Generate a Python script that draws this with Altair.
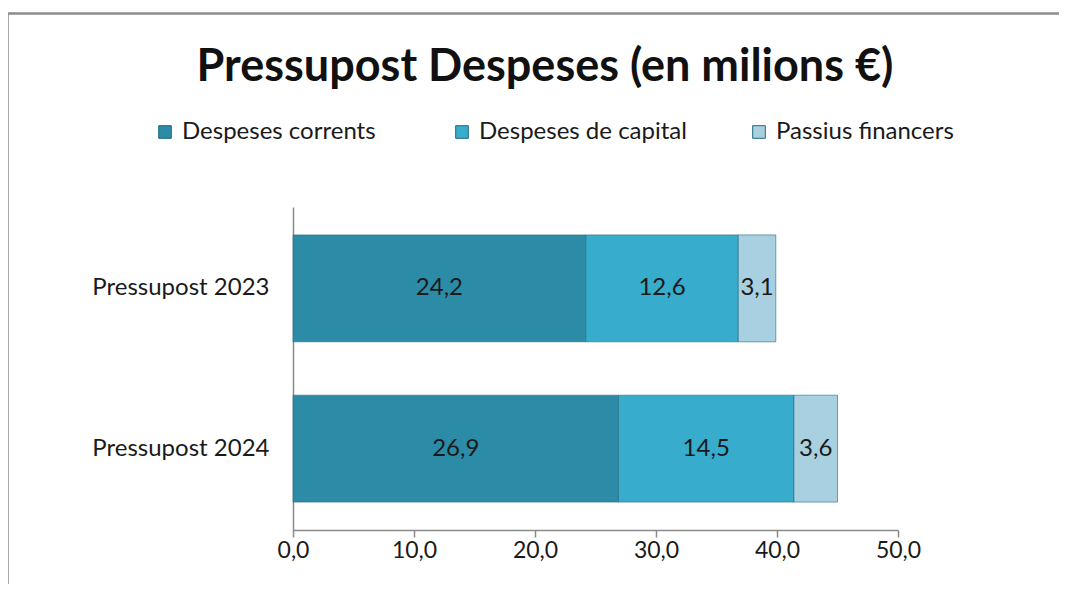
import altair as alt
import pandas as pd

budgets = ["Pressupost 2023", "Pressupost 2024"]
series = ["Despeses corrents", "Despeses de capital", "Passius financers"]
corrents = [24.2, 26.9]
capital = [12.6, 14.5]
passius = [3.1, 3.6]
colors = ["#2C8BA7", "#38ACCC", "#A8D0E0"]
x_ticks = [0, 10, 20, 30, 40, 50]
title_text = "Pressupost Despeses (en milions €)"

rows = []
for i, b in enumerate(budgets):
    for j, (s, vals) in enumerate(zip(series, [corrents, capital, passius])):
        rows.append({"budget": b, "serie": s, "order": j, "value": vals[i]})
df = pd.DataFrame(rows)

FONT = "Lato"

base = alt.Chart(df).transform_calculate(
    label="replace(format(datum.value, '.1f'), '.', ',')"
).transform_stack(
    stack="value", groupby=["budget"], sort=[alt.SortField("order")], as_=["x0", "x1"]
).transform_calculate(mid="(datum.x0 + datum.x1) / 2")

y_enc = alt.Y(
    "budget:N",
    sort=budgets,
    scale=alt.Scale(paddingInner=0.333, paddingOuter=0.174),
    axis=alt.Axis(
        title=None, ticks=False, labelPadding=24, labelFontSize=24,
        labelFont=FONT, labelColor="#1a1a1a", domainColor="#8a8a8a", domainWidth=1.5,
    ),
)

bars = base.mark_bar(stroke="#1f6a80", strokeWidth=1, strokeOpacity=0.6).encode(
    x=alt.X(
        "x0:Q",
        scale=alt.Scale(domain=[0, 50], nice=False),
        axis=alt.Axis(
            title=None, values=x_ticks, grid=False, tickSize=7, tickColor="#8a8a8a",
            domainColor="#8a8a8a", domainWidth=1.5, tickWidth=1.5, labelPadding=2,
            labelFontSize=23, labelFont=FONT, labelColor="#1a1a1a", labelFlush=False,
            labelExpr="replace(format(datum.value, '.1f'), '.', ',')",
        ),
    ),
    x2="x1:Q",
    y=y_enc,
    color=alt.Color(
        "serie:N",
        sort=series,
        scale=alt.Scale(domain=series, range=colors),
        legend=alt.Legend(
            title=None, orient="none", direction="horizontal",
            legendX=-140, legendY=-87, symbolType="square", symbolSize=160,
            symbolStrokeColor="#1f6a80", symbolStrokeWidth=1,
            labelFontSize=24, labelFont=FONT, labelColor="#1a1a1a", labelLimit=400,
            columnPadding=60, gridAlign="all", labelOffset=5,
        ),
    ),
    order=alt.Order("order:Q"),
)

texts = base.mark_text(fontSize=24, font=FONT, color="#1a1a1a").encode(
    x=alt.X("mid:Q"),
    y=alt.Y("budget:N", sort=budgets),
    text="label:N",
)

frame = alt.Chart(pd.DataFrame({"a": [0]})).mark_rect(
    fill=None, stroke="#8c8c8c", strokeWidth=2.5
).encode(
    x=alt.value(-285.5), y=alt.value(-193.5), x2=alt.value(900), y2=alt.value(600)
)

title = alt.Chart(pd.DataFrame({"t": [title_text]})).mark_text(
    fontSize=45, font=FONT, fontWeight="bold", color="#111111",
    align="center", baseline="middle",
).encode(x=alt.value(252), y=alt.value(-140), text="t:N")

chart = alt.layer(frame, title, bars, texts).properties(
    width=605,
    height=323,
    padding={"left": 285, "top": 199, "right": 161, "bottom": 54},
    autosize=alt.AutoSizeParams(type="none"),
).configure_view(stroke=None)

chart.save("out.html", embed_options={"renderer": "svg", "actions": False})
